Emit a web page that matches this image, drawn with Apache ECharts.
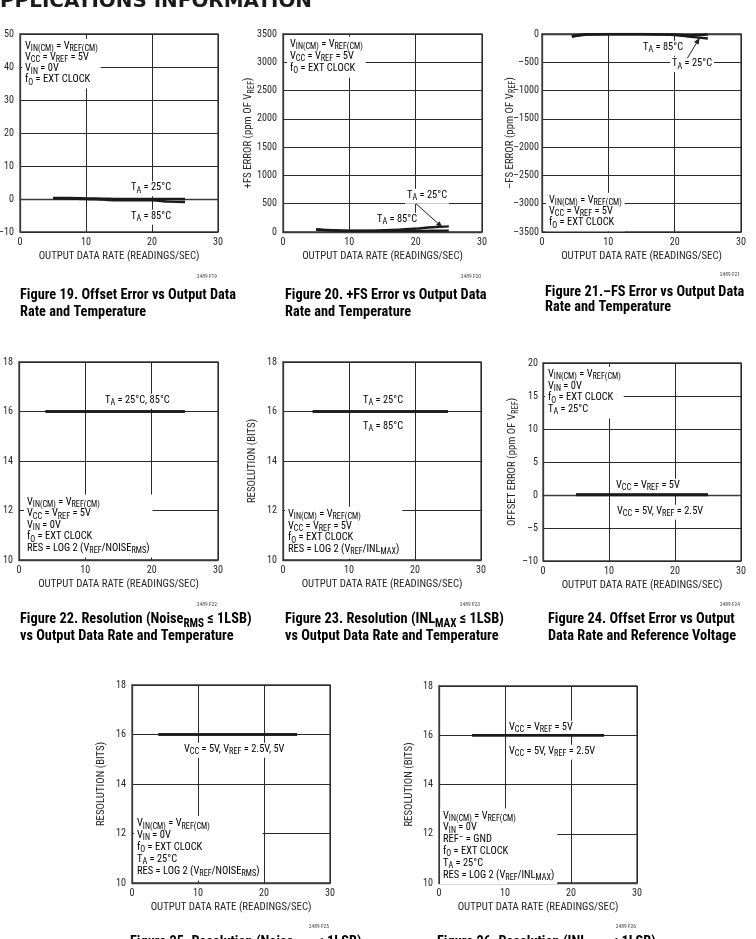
<!DOCTYPE html>
<html><head><meta charset="utf-8">
<script src="https://cdn.jsdelivr.net/npm/echarts@6/dist/echarts.min.js"></script>
<style>html,body{margin:0;padding:0;background:#fff;overflow:hidden}#c{width:756px;height:939px}</style>
</head><body><div id="c"></div>
<script>
// ---------------- DATA ----------------
const rateTicks = [0, 30, 10];               // x axis: min, max, interval (readings/sec)
// Fig 19 offset error (ppm)
const yTicks19 = [-10, 50, 10];
const rate19 = [5, 7.5, 10, 12.5, 15, 17.5, 20, 22.5, 25];
const off19_25C = [0.3, 0.3, 0.2, 0.1, 0.0, 0.0, 0.0, 0.0, 0.0];
const off19_85C = [0.2, 0.1, 0.0, -0.2, -0.4, -0.4, -0.4, -0.8, -0.9];
// Fig 20 +FS error (ppm of Vref)
const yTicks20 = [0, 3500, 500];
const rate20 = [5, 7.5, 10, 12.5, 15, 17.5, 20, 22.5, 25];
const fsp20_25C = [50, 30, 25, 25, 30, 40, 60, 85, 100];
const fsp20_85C = [40, 25, 20, 20, 20, 20, 20, 22, 25];
// Fig 21 -FS error (ppm of Vref)
const yTicks21 = [-3500, 0, 500];
const rate21 = [4.5, 7, 10, 12.5, 15, 17.5, 20, 22.5, 25];
const fsn21_25C = [-50, -10, -5, -5, -5, -10, -20, -50, -80];
const fsn21_85C = [-40, -5, 0, 0, 0, -5, -10, -20, -10];
// Fig 22 resolution (noise)
const yTicks22 = [10, 18, 2];
const rate22 = [4, 10, 15, 20, 25];
const res22_25C = [16, 16, 16, 16, 16];
const res22_85C = [16, 16, 16, 16, 16];
// Fig 23 resolution (INL)
const yTicks23 = [10, 18, 2];
const rate23 = [4.5, 10, 15, 20, 25];
const res23_25C = [16, 16, 16, 16, 16];
const res23_85C = [16, 16, 16, 16, 16];
// Fig 24 offset error vs reference voltage
const yTicks24 = [-10, 20, 5];
const rate24 = [5, 10, 15, 20, 25];
const off24_5V = [0.1, 0.1, 0.1, 0.1, 0.1];
const off24_2V5 = [0.0, 0.0, 0.0, 0.0, 0.0];
// Fig 25 resolution (noise) vs reference voltage
const yTicks25 = [10, 18, 2];
const rate25 = [4, 10, 15, 20, 25];
const res25_5V = [16, 16, 16, 16, 16];
const res25_2V5 = [16, 16, 16, 16, 16];
// Fig 26 resolution (INL) vs reference voltage
const yTicks26 = [10, 18, 2];
const rate26 = [5, 10, 15, 20, 25];
const res26_5V = [16, 16, 16, 16, 16];
const res26_2V5 = [16, 16, 16, 16, 16];

const xName = 'OUTPUT DATA RATE (READINGS/SEC)';
const yNames = [null, '+FS ERROR (ppm OF V_{REF})', '–FS ERROR (ppm OF V_{REF})', null,
  'RESOLUTION (BITS)', 'OFFSET ERROR (ppm OF V_{REF})', 'RESOLUTION (BITS)', 'RESOLUTION (BITS)'];
const codes = ['2489 F19','2489 F20','2489 F21','2489 F22','2489 F23','2489 F24','2489 F25','2489 F26'];
const captions = [
  ['Figure 19. Offset Error vs Output Data', 'Rate and Temperature'],
  ['Figure 20. +FS Error vs Output Data', 'Rate and Temperature'],
  ['Figure 21.–FS Error vs Output Data', 'Rate and Temperature'],
  ['Figure 22. Resolution (Noise_{RMS} ≤ 1LSB)', 'vs Output Data Rate and Temperature'],
  ['Figure 23. Resolution (INL_{MAX} ≤ 1LSB)', 'vs Output Data Rate and Temperature'],
  ['Figure 24. Offset Error vs Output', 'Data Rate and Reference Voltage'],
  ['Figure 25. Resolution (Noise_{RMS} ≤ 1LSB)', 'vs Output Data Rate and Reference Voltage'],
  ['Figure 26. Resolution (INL_{MAX} ≤ 1LSB)', 'vs Output Data Rate and Reference Voltage']
];
const header = 'APPLICATIONS INFORMATION';

// ---------------- FONTS / CALIBRATION ----------------
const FONT = "'Roboto Condensed','DejaVu Sans Condensed',sans-serif";
const TXT = '#262626';
const mctx = document.createElement('canvas').getContext('2d');
function mw(text, size, weight, fam) {
  mctx.font = (weight || 'normal') + ' ' + size + 'px ' + (fam || FONT);
  return mctx.measureText(text).width;
}
const SUB = 0.78;
const TICK_FS = Math.max(9.5, Math.min(12, 11 * 20 / mw('3500', 11)));
const NAME_FS = Math.max(9.5, Math.min(12, 11 * 161 / mw(xName, 11)));
const NOTE_FS = 10.6;
const NOTE_SX = Math.max(0.9, Math.min(1.15, 47.3 / mw('EXT CLOCK', NOTE_FS)));
const CAP_FS = 15.5;
const CAP_SX = Math.min(1.1, 216 / mw('Figure 19. Offset Error vs Output Data', CAP_FS, 'bold'));
const HEAD_FAM = "'DejaVu Sans'";
const HEAD_FS = 20;
const HEAD_SX = 312 / mw(header.slice(1), HEAD_FS, 'bold', HEAD_FAM);
const HEAD_A = mw(header.slice(0, 1), HEAD_FS, 'bold', HEAD_FAM) * HEAD_SX;

// ---------------- LAYOUT ----------------
const grids = [
  [20, 34, 198, 198], [283, 34, 199, 198], [542, 34, 199, 198],
  [19, 362, 199, 198], [283, 362, 198, 198], [543, 363, 198, 198],
  [132, 685, 198, 198], [439, 686, 198, 197]
];
const yTickSets = [yTicks19, yTicks20, yTicks21, yTicks22, yTicks23, yTicks24, yTicks25, yTicks26];
const yLabelMargins = [6, 6, 3, 6, 6, 5, 6, 6];
const yNameGaps = [0, 28, 25.5, 0, 24, 24, 24.5, 23];
const captionPos = [[20,295],[285,295],[545,291.5],[20,619],[285,619],[548,619],[130,942],[437,942]];
const captionLH = [17, 17, 15.7, 17, 17, 17, 17, 17];
const codeY = [276.5, 276.5, 275, 604.5, 604.5, 605, 927, 927];

function toRich(line, m, s, p) {
  let out = '', last = 0, mm; const re = /([_^])\{([^}]*)\}/g;
  while ((mm = re.exec(line))) {
    if (mm.index > last) out += '{' + m + '|' + line.slice(last, mm.index) + '}';
    out += '{' + (mm[1] === '_' ? s : p) + '|' + mm[2] + '}';
    last = re.lastIndex;
  }
  if (last < line.length) out += '{' + m + '|' + line.slice(last) + '}';
  return out;
}
function richStyles(fs, lh, weight) {
  const sfs = fs * SUB;
  return {
    m: {fontSize: fs, fontFamily: FONT, fontWeight: weight, color: TXT, lineHeight: lh, verticalAlign: 'top'},
    s: {fontSize: sfs, fontFamily: FONT, fontWeight: weight, color: TXT, lineHeight: lh, verticalAlign: 'top', padding: [fs * 0.42, 0, 0, 0]},
    p: {fontSize: sfs, fontFamily: FONT, fontWeight: weight, color: TXT, lineHeight: lh, verticalAlign: 'top', padding: [0, 0, 0, 0]}
  };
}

function note(x, yc, lh, lines, pad) {
  pad = pad || [2, 3, 3, 3];
  return {
    type: 'text', z: 5, silent: true,
    x: x - pad[3] * NOTE_SX, y: yc - NOTE_FS / 2 - pad[0], scaleX: NOTE_SX,
    style: {
      text: lines.map(l => toRich(l, 'm', 's', 'p')).join('\n'),
      rich: richStyles(NOTE_FS, lh, 'normal'),
      backgroundColor: '#fff', padding: pad,
      align: 'left', verticalAlign: 'top'
    }
  };
}
const L1 = [1, 2, 2, 2];
const notes = [
  note(25, 46, 11.2, ['V_{IN(CM)} = V_{REF(CM)}', 'V_{CC} = V_{REF} = 5V', 'V_{IN} = 0V', 'f_{O} = EXT CLOCK']),
  note(131, 187.5, 12, ['T_{A} = 25°C'], L1),
  note(131, 216, 12, ['T_{A} = 85°C'], L1),
  note(290, 44, 12, ['V_{IN(CM)} = V_{REF(CM)}', 'V_{CC} = V_{REF} = 5V', 'f_{O} = EXT CLOCK']),
  note(407, 195, 12, ['T_{A} = 25°C'], L1),
  note(377, 219, 12, ['T_{A} = 85°C'], L1),
  note(643, 47, 12, ['T_{A} = 85°C'], L1),
  note(672, 63.3, 12, ['T_{A} = 25°C'], L1),
  note(549, 200, 11.2, ['V_{IN(CM)} = V_{REF(CM)}', 'V_{CC} = V_{REF} = 5V', 'f_{O} = EXT CLOCK']),
  note(105, 400, 12, ['T_{A} = 25°C, 85°C'], L1),
  note(27, 501.7, 11.6, ['V_{IN(CM)} = V_{REF(CM)}', 'V_{CC} = V_{REF} = 5V', 'V_{IN} = 0V', 'f_{O} = EXT CLOCK', 'RES = LOG 2 (V_{REF}/NOISE_{RMS})']),
  note(363, 400, 12, ['T_{A} = 25°C'], L1),
  note(363, 426, 12, ['T_{A} = 85°C'], L1),
  note(288, 514, 11.7, ['V_{IN(CM)} = V_{REF(CM)}', 'V_{CC} = V_{REF} = 5V', 'f_{O} = EXT CLOCK', 'RES = LOG 2 (V_{REF}/INL_{MAX})']),
  note(616, 485, 12, ['V_{CC} = V_{REF} = 5V'], L1),
  note(617, 511, 12, ['V_{CC} = 5V, V_{REF} = 2.5V'], L1),
  note(548, 374, 11.7, ['V_{IN(CM)} = V_{REF(CM)}', 'V_{IN} = 0V', 'f_{O} = EXT CLOCK', 'T_{A} = 25°C']),
  note(184, 749, 12, ['V_{CC} = 5V, V_{REF} = 2.5V, 5V'], L1),
  note(137, 823.3, 11.9, ['V_{IN(CM)} = V_{REF(CM)}', 'V_{IN} = 0V', 'f_{O} = EXT CLOCK', 'T_{A} = 25°C', 'RES = LOG 2 (V_{REF}/NOISE_{RMS})']),
  note(509, 727, 12, ['V_{CC} = V_{REF} = 5V'], L1),
  note(509, 751, 12, ['V_{CC} = 5V, V_{REF} = 2.5V'], L1),
  note(443, 815.7, 11.8, ['V_{IN(CM)} = V_{REF(CM)}', 'V_{IN} = 0V', 'REF^{–} = GND', 'f_{O} = EXT CLOCK', 'T_{A} = 25°C', 'RES = LOG 2 (V_{REF}/INL_{MAX})'])
];

const chart = echarts.init(document.getElementById('c'), null, {renderer: 'canvas'});

const gridOpt = grids.map(g => ({left: g[0], top: g[1], width: g[2], height: g[3], containLabel: false, outerBoundsMode: 'none',
  show: true, borderColor: '#3a3a3a', borderWidth: 1.3, backgroundColor: 'transparent'}));
const axisLineStyle = {show: true, lineStyle: {color: '#3a3a3a', width: 1.3}};
const splitStyle = {show: true, lineStyle: {color: '#2a2a2a', width: 1, type: 'solid'}};
const labelStyle = {color: TXT, fontSize: TICK_FS, fontFamily: FONT};
const xAxes = grids.map((g, i) => ({
  type: 'value', gridIndex: i, min: rateTicks[0], max: rateTicks[1], interval: rateTicks[2],
  axisLine: axisLineStyle, axisTick: {show: false}, splitLine: splitStyle,
  axisLabel: Object.assign({margin: 5}, labelStyle),
  name: xName, nameLocation: 'middle', nameGap: 19, nameMoveOverlap: false,
  nameTextStyle: {color: TXT, fontSize: NAME_FS, fontFamily: FONT}
}));
const yAxes = grids.map((g, i) => {
  const t = yTickSets[i];
  const ax = {
    type: 'value', gridIndex: i, min: t[0], max: t[1], interval: t[2],
    axisLine: axisLineStyle, axisTick: {show: false}, splitLine: splitStyle,
    axisLabel: Object.assign({margin: yLabelMargins[i], formatter: v => String(v).replace('-', '–')}, labelStyle)
  };
  if (yNames[i]) {
    Object.assign(ax, {
      name: toRich(yNames[i], 'm', 's', 'p'), nameLocation: 'middle', nameGap: yNameGaps[i], nameRotate: 90,
      nameMoveOverlap: false,
      nameTextStyle: {color: TXT, fontSize: NAME_FS, fontFamily: FONT, rich: richStyles(NAME_FS, 12, 'normal')}
    });
  }
  return ax;
});

function line(gi, xs, ys) {
  return {type: 'line', xAxisIndex: gi, yAxisIndex: gi, data: xs.map((x, k) => [x, ys[k]]),
    showSymbol: false, smooth: 0.4, silent: true, z: 10,
    lineStyle: {color: '#1a1a1a', width: 2.4}};
}
const series = [
  line(0, rate19, off19_25C), line(0, rate19, off19_85C),
  line(1, rate20, fsp20_25C), line(1, rate20, fsp20_85C),
  line(2, rate21, fsn21_25C), line(2, rate21, fsn21_85C),
  line(3, rate22, res22_25C), line(3, rate22, res22_85C),
  line(4, rate23, res23_25C), line(4, rate23, res23_85C),
  line(5, rate24, off24_5V), line(5, rate24, off24_2V5),
  line(6, rate25, res25_5V), line(6, rate25, res25_2V5),
  line(7, rate26, res26_5V), line(7, rate26, res26_2V5)
];

chart.setOption({
  animation: false, backgroundColor: '#fff',
  grid: gridOpt, xAxis: xAxes, yAxis: yAxes, series: series
});

// ---- arrows (placed through the chart's own coordinate conversion) ----
function arrow(gi, from, to) {
  const a = chart.convertToPixel({gridIndex: gi}, from);
  const b = chart.convertToPixel({gridIndex: gi}, to);
  const ang = Math.atan2(b[1] - a[1], b[0] - a[0]);
  const len = 7, w = 2.6;
  const bx = b[0] - len * Math.cos(ang), by = b[1] - len * Math.sin(ang);
  const nx = -Math.sin(ang) * w, ny = Math.cos(ang) * w;
  return [
    {type: 'line', z: 6, silent: true, shape: {x1: a[0], y1: a[1], x2: bx, y2: by}, style: {stroke: '#222', lineWidth: 1}},
    {type: 'polygon', z: 6, silent: true, shape: {points: [[b[0], b[1]], [bx + nx, by + ny], [bx - nx, by - ny]]}, style: {fill: '#222'}}
  ];
}

const extra = [];
extra.push(...arrow(1, [20.05, 500], [24.1, 75]));
extra.push(...arrow(2, [21.9, -430], [23.8, -60]));

captions.forEach((c, i) => {
  const p = captionPos[i];
  extra.push({type: 'text', z: 5, silent: true, x: p[0], y: p[1] - CAP_FS / 2, scaleX: CAP_SX,
    style: {text: c.map(l => toRich(l, 'm', 's', 'p')).join('\n'), rich: richStyles(CAP_FS, captionLH[i], 'bold'),
      align: 'left', verticalAlign: 'top'}});
  const g = grids[i];
  extra.push({type: 'text', z: 5, silent: true, x: g[0] + g[2] - 1, y: codeY[i],
    style: {text: codes[i], fontSize: 5.5, fontFamily: FONT, fill: '#444', align: 'right', verticalAlign: 'middle'}});
});
extra.push({type: 'text', z: 5, silent: true, x: -HEAD_A, y: 2, scaleX: HEAD_SX,
  style: {text: header, fontSize: HEAD_FS, fontWeight: 'bold', fontFamily: HEAD_FAM, fill: '#1a1a1a',
    align: 'left', verticalAlign: 'middle'}});

chart.setOption({graphic: notes.concat(extra)});
</script>
</body></html>
